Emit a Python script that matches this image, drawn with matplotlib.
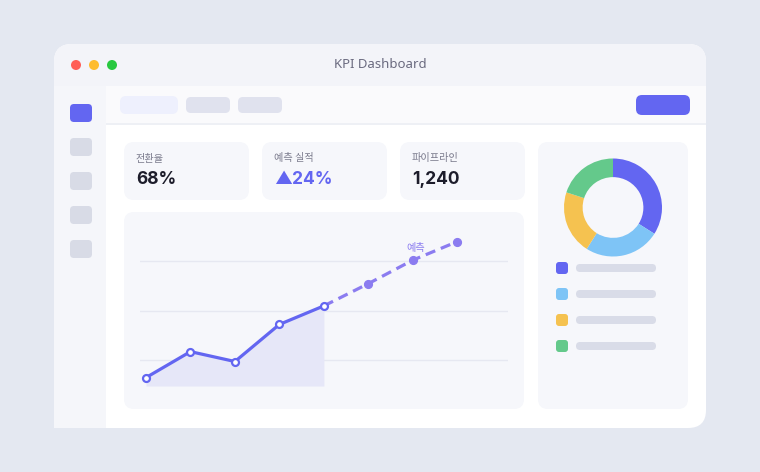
import matplotlib.pyplot as plt
from matplotlib.patches import FancyBboxPatch, Rectangle, Circle

plt.rcParams['font.family'] = ['Noto Sans CJK KR', 'DejaVu Sans']

W, H = 760, 472

# ---------------------------------------------------------------
# Data
# ---------------------------------------------------------------
kpi_labels = ["전환율", "예측 실적", "파이프라인"]
kpi_values = ["68%", "▲24%", "1,240"]

actual_x = [0, 1, 2, 3, 4]
actual_y = [13, 23.5, 19.5, 34.5, 42]
forecast_x = [4, 5, 6, 7]
forecast_y = [42, 51, 60.5, 68]
forecast_label = "예측"
grid_levels = [20, 40, 60]

donut_shares = [34, 25, 21, 20]
donut_colors = ["#6366F1", "#7EC4F6", "#F5C250", "#64C98B"]

# ---------------------------------------------------------------
# Colours
# ---------------------------------------------------------------
page_bg = "#E4E8F1"
title_bg = "#F3F4F9"
side_bg = "#F5F6FA"
topbar_bg = "#FAFAFC"
card_bg = "#F6F7FB"
accent = "#6366F1"
forecast_c = "#8B7CF0"
muted = "#D9DCE8"

fig = plt.figure(figsize=(W / 100, H / 100), dpi=100)
fig.patch.set_facecolor(page_bg)

bg = fig.add_axes([0, 0, 1, 1])
bg.set_xlim(0, W)
bg.set_ylim(H, 0)
bg.axis("off")


def rbox(x0, y0, x1, y1, r, color, z=1):
    bg.add_patch(FancyBboxPatch((x0, y0), x1 - x0, y1 - y0,
                                boxstyle=f"round,pad=0,rounding_size={r}",
                                fc=color, ec="none", zorder=z))


def rect(x0, y0, x1, y1, color, z=1):
    bg.add_patch(Rectangle((x0, y0), x1 - x0, y1 - y0, fc=color, ec="none", zorder=z))


# window
rbox(54, 44, 706, 428, 18, "white", 1)
rbox(54, 44, 706, 110, 18, title_bg, 2)
rect(54, 86, 706, 123, topbar_bg, 3)
rect(106, 123, 706, 124.5, "#EEF0F5", 3)
rect(54, 86, 106, 428, side_bg, 4)

# traffic lights
for cx, col in zip([76, 94, 112], ["#FF5F57", "#FEBC2E", "#28C840"]):
    bg.add_patch(Circle((cx, 65), 5, fc=col, ec="none", zorder=5))
bg.text(380, 65, "KPI Dashboard", ha="center", va="center",
        fontsize=9.5, color="#6B6B80", family=["Noto Sans", "DejaVu Sans"], zorder=5)

# sidebar icons
for i, y in enumerate([104, 138, 172, 206, 240]):
    rbox(70, y, 92, y + 18, 4, accent if i == 0 else "#D8DBE6", 5)

# top bar pills + button
rbox(120, 96, 178, 114, 6, "#EEF0FD", 5)
rbox(186, 97, 230, 113, 5, "#E0E2EE", 5)
rbox(238, 97, 282, 113, 5, "#E0E2EE", 5)
rbox(636, 95, 690, 115, 6, accent, 5)

# KPI cards
for i, (lab, val) in enumerate(zip(kpi_labels, kpi_values)):
    x0 = 124 + 138 * i
    rbox(x0, 142, x0 + 125, 200, 10, card_bg, 5)
    bg.text(x0 + 12, 158.5, lab, ha="left", va="center", fontsize=7.3,
            color="#7A7A8C", zorder=6)
    bg.text(x0 + 12, 180, val, ha="left", va="center", fontsize=12.5,
            fontweight="bold", color=accent if i == 1 else "#1D1D2B",
            family=["Inter", "Noto Sans CJK KR", "DejaVu Sans"], zorder=6)

# chart card + donut card
rbox(124, 212, 524, 409, 10, card_bg, 5)
rbox(538, 142, 688, 409, 10, card_bg, 5)

# legend rows
for k, col in enumerate(donut_colors):
    y = 262 + 26 * k
    rbox(556, y, 568, y + 12, 3, col, 6)
    rbox(576, y + 2, 656, y + 10, 4, muted, 6)

# ---------------------------------------------------------------
# Line chart
# ---------------------------------------------------------------
ax = fig.add_axes([140 / W, 1 - 386 / H, 368 / W, 160 / H])
ax.patch.set_visible(False)
ax.axis("off")
ax.set_xlim(-0.135, 8.14)
ax.set_ylim(9.6, 74.3)
for g in grid_levels:
    ax.axhline(g, color="#E6E8F1", lw=1, zorder=1)
ax.fill_between(actual_x, actual_y, 9.6, color="#E6E7F8", lw=0, zorder=2)
ax.plot(forecast_x, forecast_y, color=forecast_c, lw=2.3, dashes=(3.2, 1.9),
        zorder=3, solid_capstyle="butt")
ax.plot(forecast_x[1:], forecast_y[1:], "o", color=forecast_c, ms=5.6,
        zorder=4, clip_on=False)
ax.plot(actual_x, actual_y, color=accent, lw=2.3, marker="o", ms=5,
        mfc="white", mec=accent, mew=1.6, zorder=5, clip_on=False)
ax.annotate(forecast_label, (forecast_x[2], forecast_y[2]), xytext=(2, 5),
            textcoords="offset points", ha="center", va="bottom",
            fontsize=7.3, fontweight="medium", color=forecast_c)

# ---------------------------------------------------------------
# Donut
# ---------------------------------------------------------------
dx = fig.add_axes([564 / W, 1 - 256.5 / H, 98 / W, 98 / H])
dx.pie(donut_shares, colors=donut_colors, startangle=90, counterclock=False,
       radius=1, wedgeprops=dict(width=0.38, linewidth=0))
dx.set_xlim(-1, 1)
dx.set_ylim(-1, 1)
dx.set_aspect("equal")

fig.savefig("out.png", dpi=100, facecolor=page_bg)
